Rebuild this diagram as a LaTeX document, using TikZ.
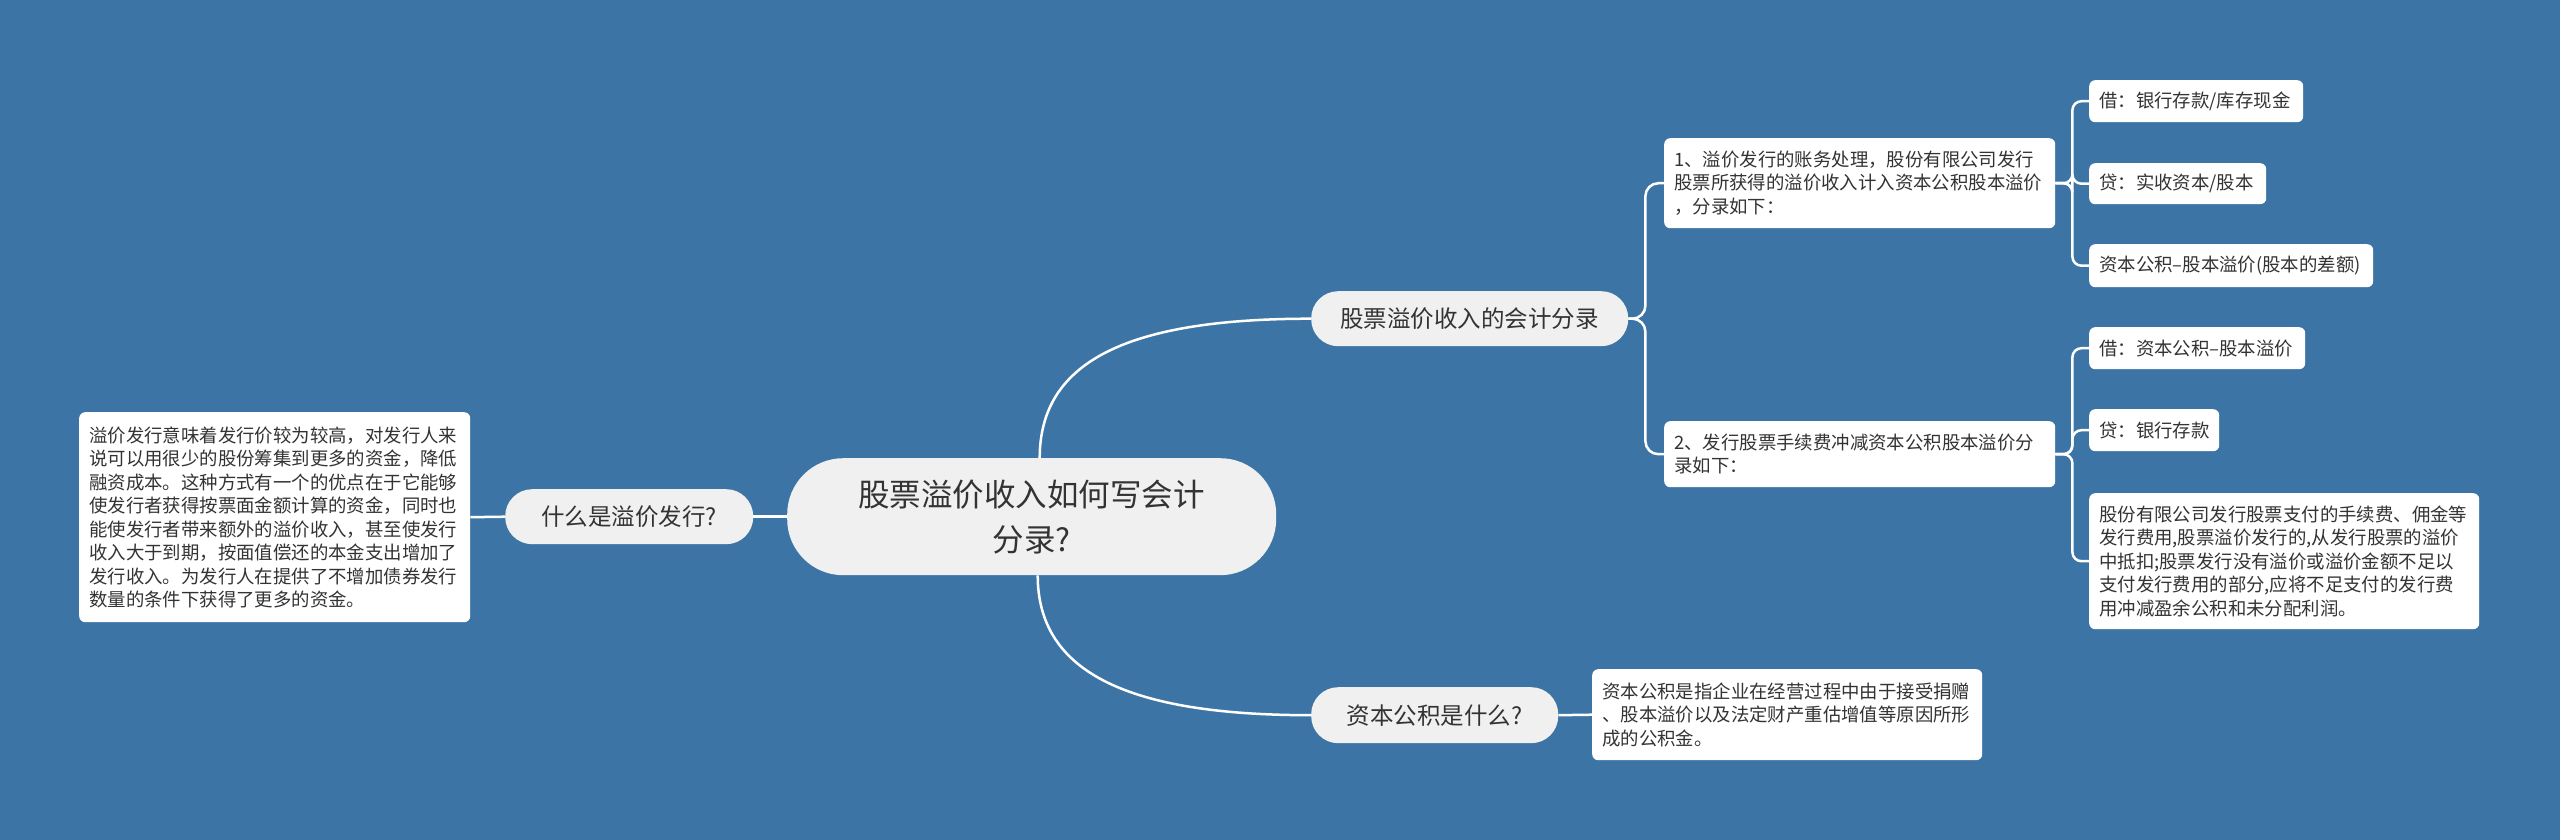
\documentclass[tikz,border=0pt]{standalone}
\usepackage{fontspec}
\setmainfont{Noto Sans CJK SC}
\definecolor{bg}{HTML}{3D74A6}
\definecolor{nodefill}{HTML}{F0F0F0}
\definecolor{txt}{HTML}{333333}
\begin{document}
\begin{tikzpicture}[x=1pt,y=-1pt,
  conn/.style={draw=white, line width=2.5pt},
  rootnode/.style={fill=nodefill, rounded corners=56pt, text=txt, align=center,
    font=\fontsize{31.5}{45}\selectfont, inner sep=0pt, anchor=north west},
  topic/.style={fill=nodefill, rounded corners=27pt, text=txt, align=center,
    font=\fontsize{23.5}{28}\selectfont, inner sep=0pt, anchor=north west},
  textbox/.style={fill=white, rounded corners=6pt, text=txt, align=left,
    font=\fontsize{18.4}{23.5}\selectfont, inner xsep=10pt, inner ysep=0pt, anchor=north west}
]
\useasboundingbox (0,0) rectangle (2560,840);
\fill[bg] (0,0) rectangle (2560,840);

% root and main topics
\node[rootnode, minimum width=489pt, minimum height=117pt] (root) at (787,458)
  {股票溢价收入如何写会计\\分录?};
\node[topic, minimum width=317pt, minimum height=55pt] (A) at (1311,291) {股票溢价收入的会计分录};
\node[topic, minimum width=247pt, minimum height=56pt] (C) at (1311,687) {资本公积是什么?};
\node[topic, minimum width=248pt, minimum height=55pt] (Q) at (505,489) {什么是溢价发行?};

% left text box
\node[textbox, text width=371pt, minimum height=210pt] (L) at (79,412)
  {溢价发行意味着发行价较为较高，对发行人来\\
   说可以用很少的股份筹集到更多的资金，降低\\
   融资成本。这种方式有一个的优点在于它能够\\
   使发行者获得按票面金额计算的资金，同时也\\
   能使发行者带来额外的溢价收入，甚至使发行\\
   收入大于到期，按面值偿还的本金支出增加了\\
   发行收入。为发行人在提供了不增加债券发行\\
   数量的条件下获得了更多的资金。};

% right boxes
\node[textbox, text width=371pt, minimum height=90pt] (B1) at (1664,138)
  {1、溢价发行的账务处理，股份有限公司发行\\
   股票所获得的溢价收入计入资本公积股本溢价\\
   ，分录如下：};
\node[textbox, text width=371pt, minimum height=66pt] (B2) at (1664,421)
  {2、发行股票手续费冲减资本公积股本溢价分\\
   录如下：};
\node[textbox, text width=370pt, minimum height=91pt] (C1) at (1592,669)
  {资本公积是指企业在经营过程中由于接受捐赠\\
   、股本溢价以及法定财产重估增值等原因所形\\
   成的公积金。};

% leaves
\node[textbox, text width=194pt, minimum height=42pt] (a1) at (2089,80) {借：银行存款/库存现金};
\node[textbox, text width=157pt, minimum height=41pt] (a2) at (2089,163) {贷：实收资本/股本};
\node[textbox, text width=264pt, minimum height=43pt] (a3) at (2089,244) {资本公积–股本溢价(股本的差额)};
\node[textbox, text width=196pt, minimum height=42pt] (b1) at (2089,327) {借：资本公积–股本溢价};
\node[textbox, text width=110pt, minimum height=42pt] (b2) at (2089,409) {贷：银行存款};
\node[textbox, text width=370pt, minimum height=136pt] (b3) at (2089,493)
  {股份有限公司发行股票支付的手续费、佣金等\\
   发行费用,股票溢价发行的,从发行股票的溢价\\
   中抵扣;股票发行没有溢价或溢价金额不足以\\
   支付发行费用的部分,应将不足支付的发行费\\
   用冲减盈余公积和未分配利润。};

% connectors
\draw[conn] ([xshift=8pt]root.north) .. controls +(0,-98) and +(-181,0) .. (A.west);
\draw[conn] ([xshift=6pt]root.south) .. controls +(0,98) and +(-181,0) .. (C.west);
\draw[conn] (root.west) -- (Q.east);
\draw[conn] (Q.west) -- (L.east);
\draw[conn] (C.east) -- (C1.west);

\draw[conn, rounded corners=13pt] (A.east) -- ++(17,0) |- (B1.west);
\draw[conn, rounded corners=13pt] (A.east) -- ++(17,0) |- (B2.west);

\draw[conn, rounded corners=9pt] (B1.east) -- ++(17,0) |- (a1.west);
\draw[conn, rounded corners=9pt] (B1.east) -- ++(17,0) |- (a2.west);
\draw[conn, rounded corners=9pt] (B1.east) -- ++(17,0) |- (a3.west);

\draw[conn, rounded corners=9pt] (B2.east) -- ++(17,0) |- (b1.west);
\draw[conn, rounded corners=9pt] (B2.east) -- ++(17,0) |- (b2.west);
\draw[conn, rounded corners=9pt] (B2.east) -- ++(17,0) |- (b3.west);
\end{tikzpicture}
\end{document}
